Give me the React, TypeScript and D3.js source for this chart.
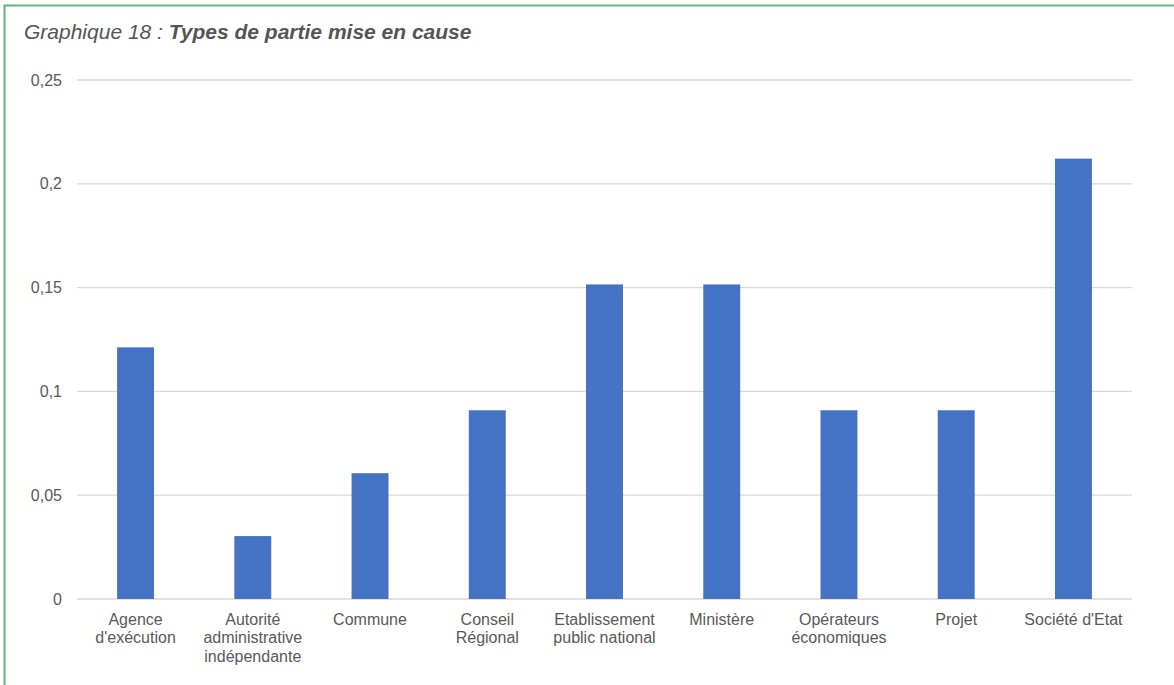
import React from "react";
import * as d3 from "d3";

const categories: string[][] = [
  ["Agence", "d'exécution"],
  ["Autorité", "administrative", "indépendante"],
  ["Commune"],
  ["Conseil", "Régional"],
  ["Etablissement", "public national"],
  ["Ministère"],
  ["Opérateurs", "économiques"],
  ["Projet"],
  ["Société d'Etat"],
];
const values: number[] = [4 / 33, 1 / 33, 2 / 33, 3 / 33, 5 / 33, 5 / 33, 3 / 33, 3 / 33, 7 / 33];
const ticks: number[] = [0, 0.05, 0.1, 0.15, 0.2, 0.25];
const tickLabels: string[] = ["0", "0,05", "0,1", "0,15", "0,2", "0,25"];

const W = 1174;
const H = 685;
const left = 77;
const right = 1132;
const top = 80;
const bottom = 599;
const font = "'Liberation Sans', Arial, Helvetica, sans-serif";

export default function App() {
  const x = d3.scaleBand<number>().domain(d3.range(categories.length)).range([left, right]).paddingInner(0.685).paddingOuter(0.342);
  const y = d3.scaleLinear().domain([0, 0.25]).range([bottom, top]);
  return (
    <svg width={W} height={H} style={{ position: "absolute", left: 0, top: 0, display: "block", background: "#fff" }}>
      <rect x={4.5} y={5.5} width={W + 10} height={H + 10} fill="none" stroke="#5cb87a" strokeWidth={2} />
      <text x={24} y={39} fontFamily={font} fontSize={21} fontStyle="italic" fill="#555">
        Graphique 18 : <tspan fontWeight="bold">Types de partie mise en cause</tspan>
      </text>
      {ticks.map((t, i) => (
        <g key={i}>
          <line x1={left} x2={right} y1={y(t)} y2={y(t)} stroke="#d9d9d9" strokeWidth={1.3} />
          <text x={62} y={y(t) + 5.5} textAnchor="end" fontFamily={font} fontSize={16} fill="#595959">
            {tickLabels[i]}
          </text>
        </g>
      ))}
      {values.map((v, i) => (
        <rect key={i} x={x(i)} y={y(v)} width={x.bandwidth()} height={y(0) - y(v)} fill="#4472c4" />
      ))}
      {categories.map((lines, i) => (
        <text key={i} x={(x(i) as number) + x.bandwidth() / 2} textAnchor="middle" fontFamily={font} fontSize={16} fill="#595959">
          {lines.map((l, j) => (
            <tspan key={j} x={(x(i) as number) + x.bandwidth() / 2} y={624.5 + j * 18.5}>
              {l}
            </tspan>
          ))}
        </text>
      ))}
    </svg>
  );
}
